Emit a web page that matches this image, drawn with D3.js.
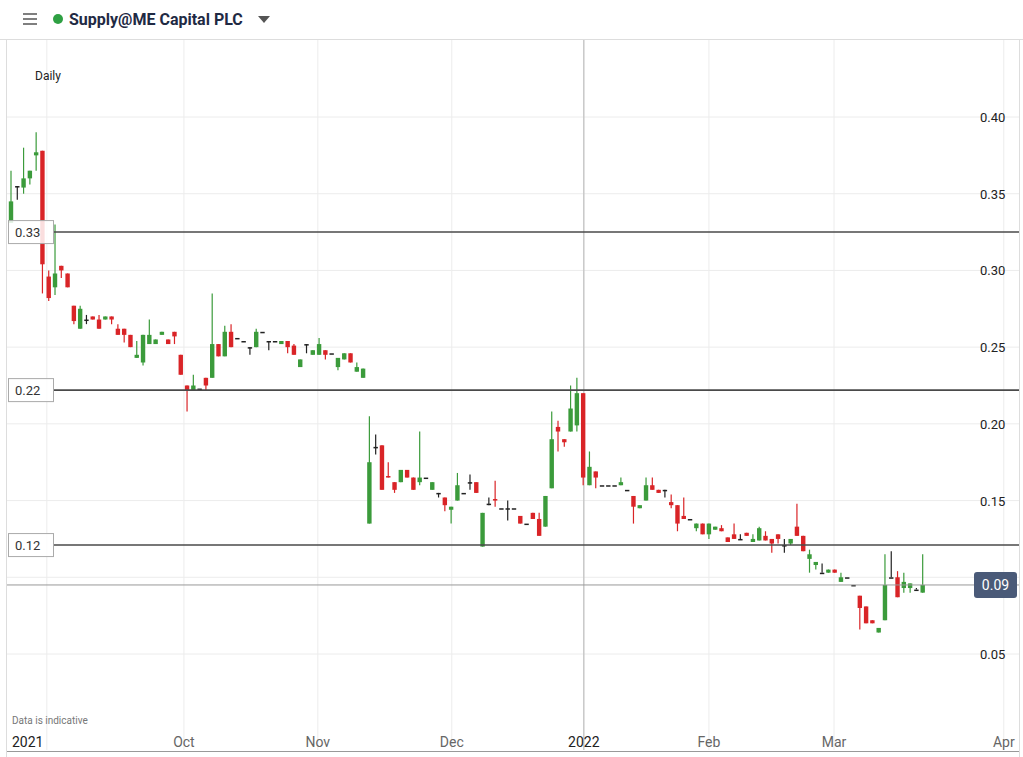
<!DOCTYPE html>
<html>
<head>
<meta charset="utf-8">
<script src="https://cdn.jsdelivr.net/npm/d3@7"></script>
<style>
  body { margin: 0; background: #fff; font-family: Roboto, "Open Sans", sans-serif; }
</style>
</head>
<body>
<div id="chart"></div>
<script>
// Daily candles, one per trading day
var opens  = [0.331,0.355,0.354,0.360,0.375,0.378,0.296,0.289,0.303,0.298,
              0.277,0.262,0.268,0.270,0.268,0.268,0.270,0.262,0.262,0.258,
              0.243,0.240,0.252,0.252,0.258,0.255,0.260,0.245,0.225,0.222,
              0.223,0.230,0.230,0.252,0.244,0.260,0.256,0.254,0.250,0.250,
              0.260,0.254,0.254,0.252,0.254,0.251,0.237,0.252,0.245,0.245,
              0.248,0.246,0.237,0.242,0.246,0.234,0.230,0.135,0.185,0.186,
              0.166,0.162,0.162,0.170,0.165,0.162,0.165,0.157,0.155,0.152,
              0.144,0.150,0.155,0.162,0.162,0.120,0.148,0.151,0.145,0.145,
              0.145,0.140,0.135,0.142,0.138,0.133,0.158,0.198,0.190,0.195,
              0.199,0.220,0.160,0.169,0.160,0.160,0.160,0.160,0.157,0.153,
              0.145,0.150,0.160,0.157,0.157,0.149,0.147,0.140,0.138,0.132,
              0.135,0.128,0.131,0.132,0.126,0.128,0.125,0.129,0.123,0.124,
              0.127,0.125,0.128,0.121,0.122,0.133,0.127,0.112,0.108,0.103,
              0.103,0.105,0.097,0.100,0.095,0.088,0.081,0.072,0.064,0.072,
              0.100,0.100,0.093,0.093,0.092,0.090];
var closes = [0.345,0.355,0.360,0.365,0.377,0.304,0.282,0.298,0.300,0.289,
              0.267,0.275,0.268,0.268,0.262,0.270,0.268,0.258,0.258,0.250,
              0.245,0.258,0.258,0.255,0.260,0.252,0.257,0.232,0.222,0.225,
              0.223,0.225,0.252,0.244,0.260,0.250,0.256,0.254,0.250,0.260,
              0.260,0.254,0.254,0.254,0.250,0.245,0.242,0.252,0.248,0.252,
              0.245,0.246,0.243,0.246,0.240,0.237,0.236,0.175,0.185,0.157,
              0.165,0.157,0.170,0.165,0.157,0.165,0.165,0.162,0.155,0.147,
              0.146,0.160,0.155,0.162,0.155,0.142,0.148,0.150,0.145,0.145,
              0.145,0.135,0.135,0.138,0.127,0.153,0.190,0.195,0.188,0.210,
              0.220,0.165,0.172,0.165,0.160,0.160,0.160,0.162,0.157,0.146,
              0.147,0.160,0.157,0.155,0.157,0.147,0.135,0.138,0.138,0.135,
              0.128,0.135,0.133,0.130,0.123,0.125,0.125,0.127,0.125,0.132,
              0.124,0.122,0.125,0.121,0.125,0.127,0.117,0.115,0.110,0.103,
              0.105,0.103,0.100,0.100,0.095,0.080,0.070,0.070,0.067,0.095,
              0.100,0.087,0.097,0.096,0.092,0.095];
var highs  = [0.365,0.355,0.380,0.365,0.390,0.378,0.300,0.330,0.303,0.298,
              0.277,0.277,0.271,0.270,0.271,0.270,0.270,0.265,0.262,0.258,
              0.254,0.258,0.268,0.255,0.260,0.255,0.260,0.245,0.225,0.232,
              0.223,0.230,0.285,0.252,0.264,0.265,0.256,0.254,0.250,0.262,
              0.260,0.254,0.254,0.254,0.254,0.252,0.242,0.252,0.248,0.256,
              0.248,0.246,0.243,0.246,0.246,0.240,0.236,0.205,0.193,0.186,
              0.175,0.162,0.170,0.170,0.165,0.195,0.165,0.162,0.155,0.152,
              0.146,0.168,0.155,0.167,0.162,0.142,0.152,0.163,0.145,0.150,
              0.145,0.140,0.135,0.142,0.142,0.153,0.208,0.202,0.190,0.225,
              0.230,0.220,0.182,0.169,0.160,0.160,0.160,0.165,0.157,0.153,
              0.147,0.165,0.165,0.157,0.157,0.154,0.147,0.152,0.138,0.135,
              0.135,0.135,0.133,0.134,0.126,0.135,0.128,0.129,0.128,0.133,
              0.130,0.125,0.128,0.125,0.125,0.148,0.127,0.118,0.110,0.109,
              0.105,0.105,0.103,0.100,0.095,0.088,0.081,0.072,0.067,0.115,
              0.117,0.104,0.103,0.096,0.093,0.115];
var lows   = [0.331,0.346,0.350,0.356,0.365,0.285,0.280,0.284,0.295,0.289,
              0.265,0.262,0.265,0.268,0.262,0.268,0.265,0.258,0.253,0.250,
              0.243,0.238,0.252,0.252,0.258,0.252,0.252,0.232,0.208,0.222,
              0.223,0.222,0.230,0.244,0.244,0.250,0.256,0.254,0.245,0.250,
              0.260,0.248,0.254,0.252,0.246,0.245,0.237,0.246,0.245,0.245,
              0.242,0.246,0.235,0.242,0.240,0.234,0.230,0.135,0.180,0.157,
              0.165,0.155,0.162,0.165,0.157,0.160,0.165,0.157,0.152,0.143,
              0.135,0.150,0.155,0.157,0.155,0.120,0.147,0.146,0.145,0.137,
              0.145,0.135,0.135,0.138,0.127,0.133,0.158,0.182,0.185,0.195,
              0.195,0.160,0.160,0.158,0.160,0.160,0.160,0.160,0.157,0.135,
              0.145,0.150,0.157,0.155,0.152,0.145,0.130,0.138,0.138,0.130,
              0.128,0.125,0.131,0.130,0.123,0.125,0.125,0.127,0.123,0.124,
              0.124,0.116,0.122,0.116,0.121,0.127,0.117,0.103,0.105,0.103,
              0.103,0.103,0.097,0.100,0.095,0.066,0.070,0.070,0.064,0.072,
              0.100,0.087,0.090,0.090,0.092,0.090];

// Axis labels
var yTicks = [0.05, 0.10, 0.15, 0.20, 0.25, 0.30, 0.35, 0.40];
var monthLabels = ["Oct", "Nov", "Dec", "2022", "Feb", "Mar", "Apr"];
var monthIndex = [27.5, 48.8, 70.1, 91.1, 111.0, 130.9, 157.9];
var gridIndex = [5.7, 27.5, 48.8, 70.1, 91.1, 111.0, 130.9, 157.9];

// Horizontal levels drawn on the chart
var levels = [0.325, 0.222, 0.121];
var levelLabels = ["0.33", "0.22", "0.12"];
var lastPrice = 0.095;
var lastLabel = "0.09";

var W = 1023, H = 757;
var green = "#3b9b3b", red = "#d92427";

var x = d3.scaleLinear().domain([0, 160]).range([11, 1017]);
var y = d3.scaleLinear().domain([0.05, 0.40]).range([654, 117]);

var svg = d3.select("#chart").append("svg")
    .attr("width", W).attr("height", H);

// Header
svg.append("line").attr("x1", 0).attr("x2", W).attr("y1", 39.5).attr("y2", 39.5)
    .attr("stroke", "#ddd");
[14, 19, 24].forEach(function (yy) {
    svg.append("line").attr("x1", 23).attr("x2", 37).attr("y1", yy).attr("y2", yy)
        .attr("stroke", "#555").attr("stroke-width", 1.5);
});
svg.append("circle").attr("cx", 58).attr("cy", 19).attr("r", 5).attr("fill", "#2ea043");
svg.append("text").attr("x", 69).attr("y", 25).attr("font-size", 16)
    .attr("font-weight", "bold").attr("fill", "#1f2a44").text("Supply@ME Capital PLC");
svg.append("path").attr("d", "M258,16 L270,16 L264,23 Z").attr("fill", "#555");

// Frame
svg.append("line").attr("x1", 6.5).attr("x2", 6.5).attr("y1", 40).attr("y2", H)
    .attr("stroke", "#ddd");
svg.append("line").attr("x1", 1019.5).attr("x2", 1019.5).attr("y1", 40).attr("y2", H)
    .attr("stroke", "#ddd");

// Grid
svg.selectAll(".hgrid").data(yTicks).enter().append("line")
    .attr("x1", 7).attr("x2", 1019)
    .attr("y1", function (d) { return y(d); }).attr("y2", function (d) { return y(d); })
    .attr("stroke", "#ececec");
svg.selectAll(".vgrid").data(gridIndex).enter().append("line")
    .attr("x1", function (d) { return x(d); }).attr("x2", function (d) { return x(d); })
    .attr("y1", 40).attr("y2", 750)
    .attr("stroke", function (d) { return d === 91.1 ? "#c8c8c8" : "#ececec"; })
    .attr("stroke-width", function (d) { return d === 91.1 ? 1.5 : 1; });

// Y tick labels (the 0.10 label sits behind the last-price box, as in the reference)
svg.selectAll(".ylab").data(yTicks).enter().append("text")
    .attr("x", 980).attr("y", function (d) { return y(d) + 5; })
    .attr("font-size", 13).attr("fill", "#222")
    .text(function (d) { return d3.format(".2f")(d); });

// Candles
var idx = d3.range(opens.length);
var bw = 4.4;
function col(i) {
    return closes[i] > opens[i] ? green : closes[i] < opens[i] ? red : "#222";
}
svg.selectAll(".wick").data(idx).enter().append("line")
    .attr("x1", function (i) { return x(i); }).attr("x2", function (i) { return x(i); })
    .attr("y1", function (i) { return y(highs[i]); })
    .attr("y2", function (i) { return y(lows[i]); })
    .attr("stroke", col)
    .attr("stroke-width", 1.2);
svg.selectAll(".body").data(idx).enter().append("rect")
    .attr("x", function (i) { return x(i) - bw / 2; })
    .attr("width", bw)
    .attr("y", function (i) { return y(Math.max(opens[i], closes[i])); })
    .attr("height", function (i) {
        return Math.max(1.5, Math.abs(y(opens[i]) - y(closes[i])));
    })
    .attr("fill", col);

// Level lines
svg.selectAll(".level").data(levels).enter().append("line")
    .attr("x1", 53).attr("x2", 1019)
    .attr("y1", function (d) { return y(d); }).attr("y2", function (d) { return y(d); })
    .attr("stroke", "#4a4a4a").attr("stroke-width", 1.6);
levels.forEach(function (d, i) {
    svg.append("rect").attr("x", 8.5).attr("y", y(d) - 11.5).attr("width", 45).attr("height", 23)
        .attr("fill", "rgba(255,255,255,0.85)").attr("stroke", "#aaa");
    svg.append("text").attr("x", 15).attr("y", y(d) + 5).attr("font-size", 13)
        .attr("fill", "#333").text(levelLabels[i]);
});

// Last price
svg.append("line").attr("x1", 7).attr("x2", 1019)
    .attr("y1", y(lastPrice)).attr("y2", y(lastPrice))
    .attr("stroke", "#999").attr("stroke-width", 1);
svg.append("rect").attr("x", 974).attr("y", y(lastPrice) - 13).attr("width", 43).attr("height", 26)
    .attr("rx", 3).attr("fill", "#4a5a78");
svg.append("text").attr("x", 995.5).attr("y", y(lastPrice) + 5).attr("text-anchor", "middle")
    .attr("font-size", 14).attr("fill", "#fff").text(lastLabel);

// Texts
svg.append("text").attr("x", 35).attr("y", 80).attr("font-size", 12).attr("fill", "#222").text("Daily");
svg.append("text").attr("x", 12).attr("y", 724).attr("font-size", 10).attr("fill", "#777")
    .text("Data is indicative");

// X axis labels
svg.append("text").attr("x", 12).attr("y", 747).attr("font-size", 14).attr("fill", "#222").text("2021");
svg.selectAll(".xlab").data(monthLabels).enter().append("text")
    .attr("x", function (d, i) { return x(monthIndex[i]); })
    .attr("y", 747).attr("text-anchor", "middle")
    .attr("font-size", 14)
    .attr("fill", function (d) { return d === "2022" ? "#222" : "#666"; })
    .text(function (d) { return d; });
svg.append("line").attr("x1", 7).attr("x2", 1019).attr("y1", 751.5).attr("y2", 751.5)
    .attr("stroke", "#999");
</script>
</body>
</html>
